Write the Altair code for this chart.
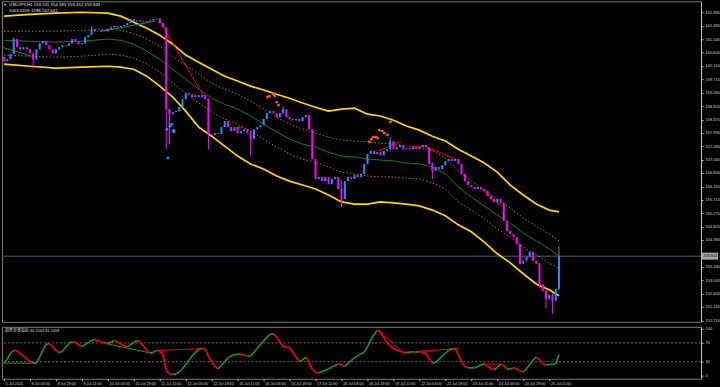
import altair as alt
import pandas as pd

# ---------------- data (USDJPY, 2-hour steps) ----------------
first_open = 160.45
closes = [
    160.31, 160.37, 160.54, 161.04, 160.77, 160.70, 160.77, 160.70, 160.57, 160.37,
    160.70, 160.90, 160.97, 160.84, 160.70, 160.57, 160.70, 160.77, 160.84, 160.82,
    160.90, 161.04, 160.97, 160.87, 160.90, 161.10, 161.17, 161.37, 161.30, 161.29,
    161.33, 161.30, 161.37, 161.43, 161.47, 161.43, 161.47, 161.50, 161.57, 161.70,
    161.63, 161.66, 161.63, 161.60, 161.63, 161.66, 161.70, 161.72, 161.57, 161.43,
    158.72, 158.55, 158.62, 158.65, 158.78, 159.05, 159.25, 159.21, 159.12, 159.18,
    159.12, 159.18, 159.05, 157.89, 157.86, 157.92, 157.89, 158.12, 158.32, 158.12,
    157.99, 158.12, 157.92, 157.99, 158.05, 157.92, 157.72, 158.05, 158.12, 158.19,
    158.39, 158.59, 158.65, 158.59, 158.45, 158.59, 158.72, 158.45, 158.39, 158.35,
    158.39, 158.32, 158.45, 158.52, 158.05, 157.06, 156.40, 156.47, 156.33, 156.47,
    156.23, 156.40, 156.47, 156.07, 155.74, 156.33, 156.47, 156.40, 156.53, 156.47,
    156.57, 156.90, 157.23, 157.33, 157.23, 157.29, 157.19, 157.33, 157.39, 157.66,
    157.39, 157.46, 157.53, 157.39, 157.43, 157.39, 157.46, 157.39, 157.46, 157.53,
    157.46, 156.90, 156.67, 156.80, 156.73, 156.86, 157.00, 157.06, 157.00, 157.06,
    156.90, 156.57, 156.33, 156.20, 156.14, 156.07, 156.14, 156.07, 156.00, 155.84,
    155.74, 155.64, 155.74, 155.61, 155.01, 154.68, 154.58, 154.48, 154.25, 153.59,
    153.69, 153.82, 153.98, 153.69, 153.59, 152.92, 152.69, 152.43, 152.56, 152.36,
    152.76, 153.84,
]
wick_idx = [3, 9, 27, 50, 51, 63, 76, 86, 104, 119, 132, 165, 167, 169, 171]
wick_hi = [161.10, 160.50, 161.47, 161.45, 158.70, 159.08, 158.00, 158.82, 156.33, 157.79, 156.95, 153.62, 152.75, 152.62, 154.18]
wick_lo = [160.70, 160.04, 161.25, 157.39, 157.55, 157.39, 157.16, 158.55, 155.47, 157.35, 156.40, 152.80, 152.10, 151.93, 152.70]

band_bars = [0, 8, 16, 24, 32, 36, 40, 44, 48, 52, 56, 60, 64, 68, 72, 76, 80, 84, 88, 92,
             96, 100, 104, 108, 112, 116, 120, 124, 128, 132, 136, 140, 144, 148, 152, 156, 160, 164, 168, 171]
upper_band = [161.80, 161.86, 161.90, 161.93, 161.90, 161.80, 161.60, 161.40, 161.17, 160.87,
              160.51, 160.27, 160.04, 159.81, 159.65, 159.48, 159.35, 159.21, 159.08, 158.92,
              158.78, 158.65, 158.72, 158.75, 158.55, 158.49, 158.35, 158.16, 158.02, 157.82,
              157.66, 157.39, 157.16, 156.93, 156.63, 156.20, 155.87, 155.57, 155.37, 155.31]
lower_band = [160.21, 160.14, 160.08, 160.11, 160.14, 160.11, 160.04, 159.81, 159.48, 159.12,
              158.65, 158.12, 157.82, 157.49, 157.16, 156.90, 156.73, 156.50, 156.33, 156.20,
              156.07, 155.87, 155.64, 155.57, 155.57, 155.64, 155.61, 155.57, 155.51, 155.37,
              155.18, 154.88, 154.65, 154.31, 153.92, 153.62, 153.26, 152.92, 152.73, 152.53]
mid_band = [161.00, 160.97, 160.94, 160.97, 161.04, 161.00, 160.87, 160.64, 160.37, 160.04,
            159.71, 159.38, 159.08, 158.88, 158.72, 158.49, 158.22, 157.96, 157.72, 157.56,
            157.46, 157.29, 157.16, 157.13, 157.06, 157.03, 157.00, 156.93, 156.90, 156.80,
            156.57, 156.14, 155.80, 155.51, 155.21, 154.94, 154.61, 154.35, 154.08, 153.85]
upper_dot = [161.30, 161.30, 161.30, 161.33, 161.37, 161.33, 161.23, 161.04, 160.80, 160.47,
             160.17, 159.88, 159.58, 159.38, 159.21, 158.98, 158.72, 158.45, 158.22, 158.06,
             157.92, 157.79, 157.69, 157.66, 157.63, 157.59, 157.56, 157.49, 157.46, 157.33,
             157.10, 156.67, 156.33, 156.04, 155.74, 155.44, 155.11, 154.84, 154.58, 154.35]
lower_dot = [160.51, 160.47, 160.44, 160.47, 160.54, 160.51, 160.41, 160.21, 159.94, 159.58,
             159.25, 158.92, 158.62, 158.39, 158.22, 157.99, 157.72, 157.46, 157.23, 157.06,
             156.96, 156.80, 156.63, 156.57, 156.50, 156.47, 156.47, 156.43, 156.40, 156.27,
             156.07, 155.64, 155.37, 155.08, 154.74, 154.48, 154.15, 153.88, 153.62, 153.42]

main_div_x1 = [-0.6, 30.2, 47.7, 71.7, 115.4, 125.5, 129.5, 148.0]
main_div_y1 = [160.77, 161.30, 161.70, 158.12, 157.33, 157.49, 157.49, 156.00]
main_div_x2 = [8.6, 46.5, 61.5, 73.9, 122.5, 129.5, 139.4, 153.2]
main_div_y2 = [160.47, 161.63, 159.15, 158.12, 157.66, 157.49, 157.06, 155.51]
main_div_kind = ["bull", "bull", "bear", "bear", "bear", "bear", "bear", "bear"]

orange_x = [81.2, 81.8, 83.1, 83.4, 84.0, 84.6, 112.6, 113.2, 113.8, 114.5, 115.1, 115.7, 116.6, 117.2, 118.2, 119.1]
orange_y = [159.12, 159.15, 159.21, 159.15, 158.95, 158.85, 157.63, 157.72, 157.79, 157.79, 157.76, 158.02, 157.99, 157.92, 157.86, 158.29]
blue_x = [50.2, 51.1, 51.7, 52.3, 50.5]
blue_y = [158.05, 158.15, 158.22, 157.99, 157.10]
blue_s = [8, 8, 8, 16, 8]

osc = [
    27, 35, 48, 54, 53, 48, 42, 36, 31, 27,
    27, 40, 55, 67, 68, 62, 54, 49, 52, 60,
    68, 73, 71, 66, 62, 66, 71, 75, 77, 75,
    72, 70, 69, 72, 75, 72, 68, 64, 62, 66,
    71, 75, 72, 63, 55, 48, 50, 54, 52, 46,
    12, 4, 3, 4, 8, 15, 24, 33, 42, 50,
    56, 58, 57, 42, 30, 20, 15, 22, 30, 38,
    42, 45, 46, 46, 44, 42, 42, 50, 58, 66,
    74, 82, 88, 90, 82, 72, 63, 62, 60, 50,
    40, 30, 34, 40, 28, 14, 7, 6, 9, 12,
    15, 19, 22, 25, 24, 20, 26, 33, 38, 43,
    47, 50, 62, 76, 88, 97, 92, 82, 72, 64,
    58, 55, 52, 50, 49, 50, 51, 50, 51, 50,
    48, 36, 27, 28, 35, 42, 48, 54, 57, 58,
    45, 30, 20, 17, 17, 17, 20, 23, 25, 20,
    16, 13, 18, 25, 22, 14, 15, 17, 15, 11,
    8, 15, 24, 33, 40, 34, 26, 23, 24, 25,
    25, 45.33,
]
ind_div_x1 = [0, 31, 47.7, 115.4, 123.4, 148]
ind_div_y1 = [27, 69, 54, 98, 50, 25]
ind_div_x2 = [10, 45.5, 62, 122.5, 140, 153]
ind_div_y2 = [27, 48, 58, 53, 58, 25]
ind_div_kind = ["bull", "bull", "bear", "bear", "bear", "bear"]
ind_levels = [30, 70]

x_labels = ["5 Jul 2024", "8 Jul 03:00", "8 Jul 19:00", "9 Jul 11:00", "10 Jul 03:00", "10 Jul 19:00",
            "11 Jul 11:00", "12 Jul 03:00", "12 Jul 19:00", "15 Jul 11:00", "16 Jul 03:00", "16 Jul 19:00",
            "17 Jul 11:00", "18 Jul 03:00", "18 Jul 19:00", "19 Jul 11:00", "22 Jul 03:00", "22 Jul 19:00",
            "23 Jul 11:00", "24 Jul 03:00", "24 Jul 19:00", "25 Jul 11:00"]
x_ticks = list(range(0, 169, 8))
y_ticks = [161.93, 161.48, 161.04, 160.60, 160.15, 159.71, 159.26, 158.82, 158.37, 157.93, 157.49, 157.04,
           156.60, 156.15, 155.71, 155.27, 154.82, 154.38, 153.49, 153.04, 152.60, 152.16, 151.71]
ind_ticks = [0, 30, 70, 100]
last_price = 153.843
title1 = "USDJPY,H1  153.511 154.185 153.412 153.843"
title2 = "1001 2209 1288 147.641"
ind_title = "趋势背离指标 45.3284 45.3284"

# ---------------- tables ----------------
BULL, BEAR = "#1e90ff", "#ff00ff"
rows = []
prev = first_open
for i, c in enumerate(closes):
    o = prev
    hi, lo = max(o, c), min(o, c)
    if i in wick_idx:
        k = wick_idx.index(i)
        hi, lo = max(hi, wick_hi[k]), min(lo, wick_lo[k])
    rows.append(dict(i=i, o=o, c=c, hi=hi, lo=lo, col=BULL if c >= o else BEAR))
    prev = c
candles = pd.DataFrame(rows)

bands = pd.DataFrame(dict(b=band_bars, up=upper_band, lo=lower_band, mid=mid_band, ud=upper_dot, ld=lower_dot))
div_main = pd.DataFrame(dict(x=main_div_x1, y=main_div_y1, x2=main_div_x2, y2=main_div_y2,
                             col=["#1f9a1f" if k == "bull" else "#ff0000" for k in main_div_kind]))
orange = pd.DataFrame(dict(x=orange_x, y=orange_y))
blue = pd.DataFrame(dict(x=blue_x, y=blue_y, s=blue_s))

segs = pd.DataFrame([dict(x=i, x2=i + 1, y=osc[i], y2=osc[i + 1],
                          col="#1f9a1f" if osc[i + 1] >= osc[i] else "#ff0000") for i in range(len(osc) - 1)])
div_ind = pd.DataFrame(dict(x=ind_div_x1, y=ind_div_y1, x2=ind_div_x2, y2=ind_div_y2,
                            col=["#1f9a1f" if k == "bull" else "#ff0000" for k in ind_div_kind]))
levels = pd.DataFrame(dict(v=ind_levels))

# ---------------- scales / axes ----------------
FONT = "Liberation Sans"
xs = alt.Scale(domain=[-0.615, 214.77], nice=False, zero=False)
ys = alt.Scale(domain=[151.665, 162.294], nice=False, zero=False)
yi = alt.Scale(domain=[-6.25, 104.17], nice=False, zero=False)
yaxis = alt.Axis(orient="right", values=y_ticks, format=".3f", title=None, labelFlush=False,
                 labelOverlap=False, grid=False)
iaxis = alt.Axis(orient="right", values=ind_ticks, format="d", title=None, labelFlush=False,
                 labelOverlap=False, grid=False)
expr = "[" + ",".join("'" + s + "'" for s in x_labels) + "][round(datum.value/8)]"
xaxis = alt.Axis(values=x_ticks, labelExpr=expr, labelAlign="left", labelFlush=False, labelOverlap=False,
                 domain=False, title=None, grid=False, labelPadding=1, tickSize=2, labelBaseline="top",
                 labelFontSize=3.8, labelOffset=1)

X = lambda f: alt.X(f, scale=xs, axis=None)
Y = lambda f: alt.Y(f, scale=ys, axis=yaxis)

wicks = alt.Chart(candles).mark_rule(strokeWidth=1).encode(
    x=X("i:Q"), y=Y("lo:Q"), y2="hi:Q", color=alt.Color("col:N", scale=None))
bodies = alt.Chart(candles).mark_rule(strokeWidth=2).encode(
    x=X("i:Q"), y=Y("o:Q"), y2="c:Q", color=alt.Color("col:N", scale=None))

bb = alt.Chart(bands)
up_l = bb.mark_line(color="#ffd700", strokeWidth=1.7).encode(x=X("b:Q"), y=Y("up:Q"))
lo_l = bb.mark_line(color="#ffd700", strokeWidth=1.7).encode(x=X("b:Q"), y=Y("lo:Q"))
mid_l = bb.mark_line(color="#1d7a1d", strokeWidth=1).encode(x=X("b:Q"), y=Y("mid:Q"))
ud_l = bb.mark_line(color="#a87a10", strokeWidth=1, strokeDash=[1.5, 2]).encode(x=X("b:Q"), y=Y("ud:Q"))
ld_l = bb.mark_line(color="#a87a10", strokeWidth=1, strokeDash=[1.5, 2]).encode(x=X("b:Q"), y=Y("ld:Q"))

divm = alt.Chart(div_main).mark_rule(strokeWidth=1).encode(
    x=X("x:Q"), x2="x2:Q", y=Y("y:Q"), y2="y2:Q", color=alt.Color("col:N", scale=None))
odots = alt.Chart(orange).mark_circle(size=8, color="#ff5a14", opacity=1).encode(x=X("x:Q"), y=Y("y:Q"))
bdots = alt.Chart(blue).mark_circle(color="#1e90ff", opacity=1).encode(
    x=X("x:Q"), y=Y("y:Q"), size=alt.Size("s:Q", scale=None, legend=None))

lp = pd.DataFrame(dict(p=[last_price]))
pline = alt.Chart(lp).mark_rule(color="#3b4044", strokeWidth=1.5).encode(y=Y("p:Q"))
pbox = alt.Chart(lp).mark_tick(orient="horizontal", size=16, thickness=7, color="#f0f0f0").encode(
    x=alt.value(709), y=Y("p:Q"))
ptext = alt.Chart(lp).mark_text(align="left", baseline="middle", fontSize=4, font=FONT, color="#000000").encode(
    x=alt.value(702), y=Y("p:Q"), text=alt.Text("p:Q", format=".3f"))

titles = pd.DataFrame(dict(t=[title1, title2], yy=[4, 10]))
ttext = alt.Chart(titles).mark_text(align="left", baseline="middle", fontSize=4.4, font=FONT, color="#e8e8e8").encode(
    x=alt.value(7), y=alt.Y("yy:Q", scale=None, axis=None), text="t:N")
icon = alt.Chart(pd.DataFrame(dict(t=["▼"]))).mark_text(fontSize=3.5, color="#e8e8e8", baseline="middle").encode(
    x=alt.value(3), y=alt.value(4), text="t:N")

main = alt.layer(pline, ud_l, ld_l, mid_l, up_l, lo_l, divm, wicks, bodies, odots, bdots,
                 ttext, icon, pbox, ptext).properties(width=700, height=321)

# ---------------- indicator panel ----------------
XI = lambda f: alt.X(f, scale=xs, axis=xaxis)
YI = lambda f: alt.Y(f, scale=yi, axis=iaxis)
lev = alt.Chart(levels).mark_rule(color="#6a6a6a", strokeWidth=1, strokeDash=[2, 2]).encode(y=YI("v:Q"))
osc_l = alt.Chart(segs).mark_rule(strokeWidth=1.6).encode(
    x=XI("x:Q"), x2="x2:Q", y=YI("y:Q"), y2="y2:Q", color=alt.Color("col:N", scale=None))
divi = alt.Chart(div_ind).mark_rule(strokeWidth=1).encode(
    x=XI("x:Q"), x2="x2:Q", y=YI("y:Q"), y2="y2:Q", color=alt.Color("col:N", scale=None))
itext = alt.Chart(pd.DataFrame(dict(t=[ind_title]))).mark_text(
    align="left", baseline="middle", fontSize=4, font="Noto Sans CJK SC", color="#d8d8d8").encode(
    x=alt.value(3), y=alt.value(4), text="t:N")
ind = alt.layer(lev, divi, osc_l, itext).properties(width=700, height=52)

chart = alt.vconcat(main, ind, spacing=2).properties(
    background="#000000", padding={"top": 0, "left": 0, "right": 0, "bottom": 0}
).configure_view(stroke="#7a7a7a", strokeWidth=1).configure_axis(
    labelColor="#d0d0d0", labelFont=FONT, labelFontSize=4, tickColor="#c0c0c0",
    domainColor="#c0c0c0", tickSize=2, labelPadding=2
).configure_concat(spacing=2)

chart.save("out.html", embed_options={"renderer": "svg", "actions": False})
